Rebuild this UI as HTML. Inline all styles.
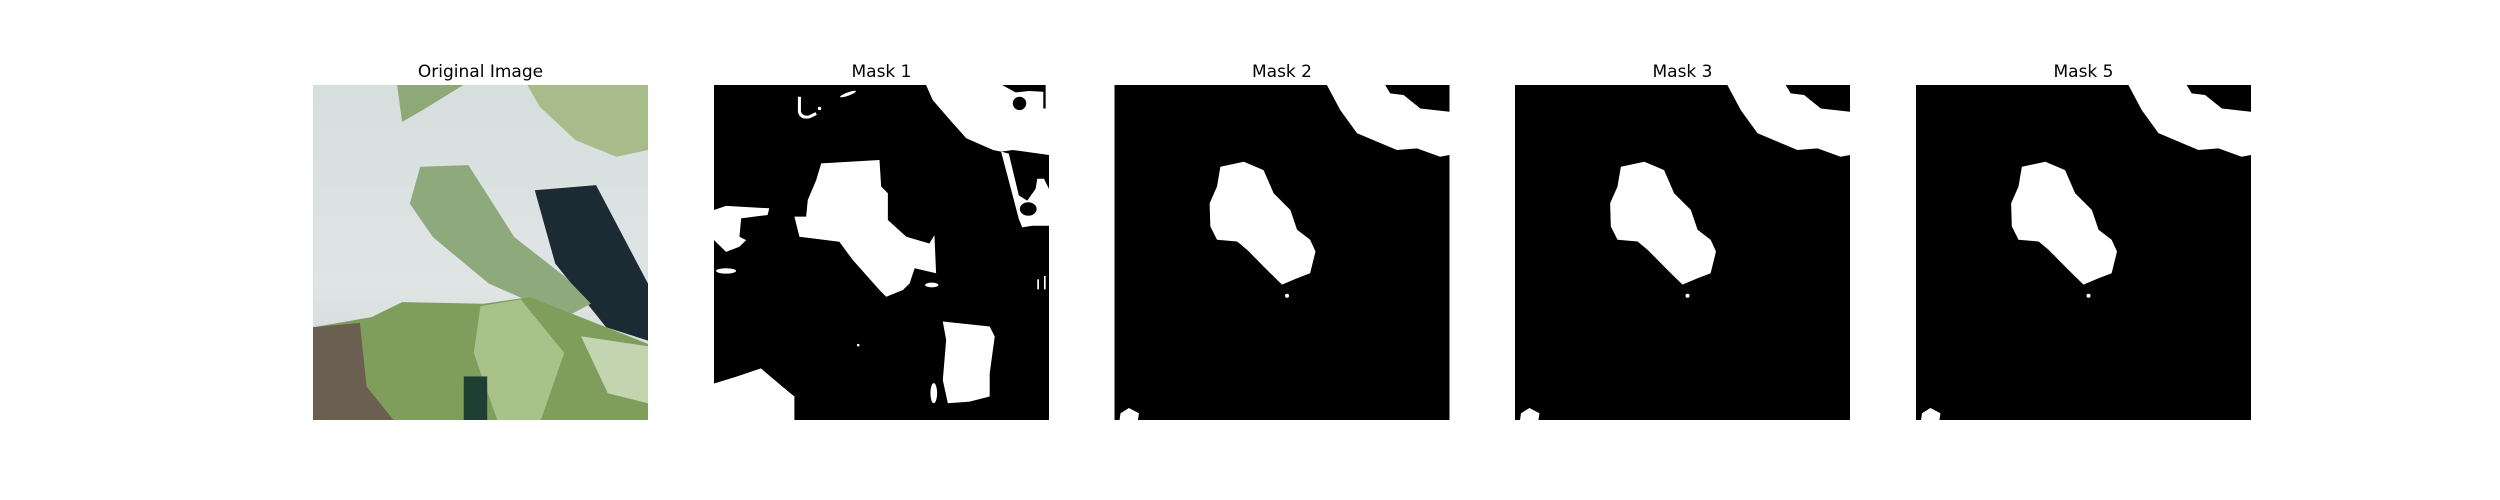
<!DOCTYPE html>
<html><head><meta charset="utf-8"><style>
html,body{margin:0;padding:0;background:#fff;}
svg{display:block;}
text{font-family:"DejaVu Sans","Liberation Sans",sans-serif;font-size:17px;fill:#000;}
</style></head><body>
<svg width="2500" height="500" viewBox="0 0 2500 500">
<defs>
<g id="mask2shapes">
<polygon fill="#fff" points="31.6,24.4 38.6,22.9 44.5,25.4 47.5,32.3 52.5,37.3 54.5,43.2 58.4,46.2 60,49.7 58.4,56.2 54.5,57.7 50,59.6 45.5,55.2 39.6,49.2 36.6,46.7 30.6,46.2 28.6,42.2 28.4,35.3 30.6,30.3"/>
<polygon fill="#fff" points="63.4,0 67.4,7.5 72.4,14.4 84.3,19.4 90.3,18.9 97.2,21.4 100,20.9 100,8 91.3,7 86.3,3 82.3,2.5 80.8,0"/>
<circle fill="#fff" cx="51.5" cy="62.9" r="0.6"/>
<polygon fill="#fff" points="1.8,98 4.3,96.4 7.3,98 7,100 1.5,100"/>
</g>
</defs>

<g>
<text x="480.5" y="77" text-anchor="middle">Original Image</text>
<svg x="313" y="85" width="335" height="335" viewBox="0 0 100 100" preserveAspectRatio="none">
<defs><linearGradient id="bg" x1="0" y1="0" x2="0" y2="1"><stop offset="0" stop-color="#d6dede"/><stop offset="0.6" stop-color="#dfe5e4"/><stop offset="1" stop-color="#c9d3d2"/></linearGradient></defs>
<rect width="100" height="100" fill="url(#bg)"/>
<polygon fill="#1b2a33" points="66.2,31.4 84.5,29.9 100,59.3 100,76.3 87.5,72.3 72.3,53.3"/>
<polygon fill="#a8bc8b" points="64,0 100,0 100,19.4 90.6,21.4 78.4,16.5 67.7,6.5"/>
<polygon fill="#8fa878" points="25.1,0 44.9,0 32.7,7.5 26.6,11"/>
<polygon fill="#8eaa7c" points="32,24.4 46.4,23.9 60.1,45.4 75.3,57.3 83,65.3 75.3,69.3 52.5,59.3 35.8,45.4 28.9,35.4"/>
<ellipse cx="22" cy="82" rx="14" ry="12" fill="#eef2f1"/>
<polygon fill="#7f9e5c" points="17.5,69.3 26.6,64.8 51,65.3 64.7,63.3 87.5,72.3 100,77.3 100,100 0,100 0,72.3"/>
<polygon fill="#a9c28a" points="50,66 62,64 75,80 68,100 55,100 48,80"/>
<polygon fill="#c3d4b0" points="80,75 100,78 100,95 88,92"/>
<polygon fill="#6a5f50" points="0,72.3 14,71 16,90 24,100 0,100"/>
<rect x="45" y="87" width="7" height="13" fill="#1f3f35"/>
</svg>
</g>

<g>
<text x="881.5" y="77" text-anchor="middle">Mask 1</text>
<svg x="714" y="85" width="335" height="335" viewBox="0 0 100 100" preserveAspectRatio="none">
<rect width="100" height="100" fill="#000"/>
<polygon fill="#fff" points="32,23.4 49.4,22.4 49.9,30.3 51.9,32.3 51.9,40.3 57.4,45.3 64.3,47.3 65.8,44.8 66.3,56.2 59.9,54.7 58.4,59.2 56.4,61.2 51.4,63.2 49.4,61.2 41.4,52.2 37.4,46.8 25.5,45.3 24,39.3 27.5,39.3 28,34.3 30.5,28.4"/>
<ellipse fill="#fff" cx="65" cy="59.7" rx="2" ry="0.7"/>
<polygon fill="#fff" points="0,37.3 3.6,36.1 16.5,36.8 16,38.8 8.1,39.8 7.6,45.3 9.6,46.3 7.6,48.3 3.6,49.8 0,46.3"/>
<ellipse fill="#fff" cx="3.6" cy="55.5" rx="3" ry="0.8"/>
<polygon fill="#fff" points="0,89.1 6.6,87.1 14,84.6 20.5,90.1 24,93 24,100 0,100"/>
<polygon fill="#fff" points="68.3,70.6 82.3,72.1 83.8,75.1 82.3,86.1 82.3,93 76.3,94.5 69.8,95 68.3,88.1 69.3,76.1"/>
<ellipse fill="#fff" cx="65.6" cy="92" rx="1" ry="3"/>
<polygon fill="#fff" points="63.3,0 65.3,4.5 71.3,11.4 75.3,15.9 83.3,19.4 85.7,19.9 89.2,19.4 100,20.9 100,0"/>
<ellipse fill="#000" cx="91.2" cy="5.5" rx="2" ry="2"/>
<polygon fill="#000" points="86,0 99,0 99,7 98.3,7 98.3,2 94,1.8 90,2.2"/>
<polygon fill="#fff" points="85.7,19.9 88,20.5 91,33 93.5,34.5 96,31 96.5,28 98.5,28 100,31 100,42 95,42 92,42.5 91,40"/>
<ellipse fill="#000" cx="93.8" cy="37" rx="2.5" ry="2"/>
<path d="M25.5,3.5 L25.5,8 Q26,10 28.5,9.5 L30.5,8.5" stroke="#fff" stroke-width="0.9" fill="none"/>
<circle fill="#fff" cx="31.5" cy="7" r="0.5"/>
<ellipse fill="#fff" cx="40" cy="2.7" rx="2.5" ry="0.5" transform="rotate(-20 40 2.7)"/>
<rect fill="#fff" x="42.7" y="77.3" width="0.7" height="0.7"/>
<rect fill="#fff" x="96.5" y="58" width="0.5" height="3"/>
<rect fill="#fff" x="98.5" y="57" width="0.5" height="4"/>
</svg>
</g>

<g>
<text x="1282" y="77" text-anchor="middle">Mask 2</text>
<svg x="1114.5" y="85" width="335" height="335" viewBox="0 0 100 100" preserveAspectRatio="none">
<rect width="100" height="100" fill="#000"/><use href="#mask2shapes"/>
</svg>
</g>

<g>
<text x="1682.5" y="77" text-anchor="middle">Mask 3</text>
<svg x="1515" y="85" width="335" height="335" viewBox="0 0 100 100" preserveAspectRatio="none">
<rect width="100" height="100" fill="#000"/><use href="#mask2shapes"/>
</svg>
</g>

<g>
<text x="2083.5" y="77" text-anchor="middle">Mask 5</text>
<svg x="1916" y="85" width="335" height="335" viewBox="0 0 100 100" preserveAspectRatio="none">
<rect width="100" height="100" fill="#000"/><use href="#mask2shapes"/>
</svg>
</g>
</svg>
</body></html>
